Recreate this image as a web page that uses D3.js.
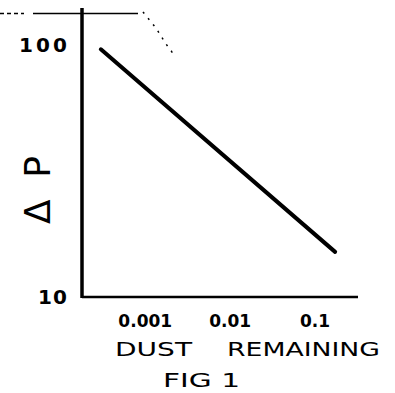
<!DOCTYPE html>
<html>
<head>
<meta charset="utf-8">
<script src="https://cdn.jsdelivr.net/npm/d3@7"></script>
<style>
  html, body { margin: 0; padding: 0; background: #fff; }
  svg { display: block; }
  text { font-family: "DejaVu Sans", sans-serif; fill: #000; }
</style>
</head>
<body>
<svg id="chart" width="395" height="393"></svg>
<script>
// Dust remaining (fraction) vs pressure drop, both on log scales
const dustRemaining = [0.0003, 0.172];
const pressureDrop = [96, 15.1];

const xTickValues = [0.001, 0.01, 0.1];
const xTickLabels = ["0.001", "0.01", "0.1"];
const yTickValues = [10, 100];
const yTickLabels = ["10", "100"];

// level of the ruled line across the top of the sheet
const ruleLevel = 133;

const svg = d3.select("#chart");

const x = d3.scaleLog().domain([1.8e-4, 0.32]).range([82, 358]);
const y = d3.scaleLog().domain([10, 140]).range([297, 8]);

// ruled line at the top (dashed lead-in, then solid)
svg.append("line")
  .attr("x1", 0).attr("x2", 24)
  .attr("y1", y(ruleLevel)).attr("y2", y(ruleLevel))
  .attr("stroke", "#000").attr("stroke-width", 1.5)
  .attr("stroke-dasharray", "4,3");
svg.append("line")
  .attr("x1", 33).attr("x2", 138)
  .attr("y1", y(ruleLevel)).attr("y2", y(ruleLevel))
  .attr("stroke", "#000").attr("stroke-width", 1.5);
// broken trail off the rule
svg.append("path")
  .attr("d", d3.line()([[143, 12], [156, 28], [166, 44], [172, 52], [178, 50]]))
  .attr("fill", "none").attr("stroke", "#000").attr("stroke-width", 1.5)
  .attr("stroke-dasharray", "2,6");

// axes
svg.append("line")
  .attr("x1", x.range()[0]).attr("x2", x.range()[0])
  .attr("y1", y.range()[1]).attr("y2", y.range()[0] + 1)
  .attr("stroke", "#000").attr("stroke-width", 3.5);
svg.append("line")
  .attr("x1", x.range()[0]).attr("x2", x.range()[1])
  .attr("y1", y.range()[0]).attr("y2", y.range()[0])
  .attr("stroke", "#000").attr("stroke-width", 2.5);

// y tick labels
svg.selectAll("text.ytick")
  .data(yTickValues)
  .join("text")
  .attr("class", "ytick")
  .attr("x", 67)
  .attr("y", d => y(d))
  .attr("dy", "0.35em")
  .attr("text-anchor", "end")
  .attr("font-size", 20)
  .attr("font-weight", "bold")
  .attr("textLength", (d, i) => yTickLabels[i].length === 3 ? 48 : 29)
  .attr("lengthAdjust", "spacing")
  .text((d, i) => yTickLabels[i]);

// x tick labels
svg.selectAll("text.xtick")
  .data(xTickValues)
  .join("text")
  .attr("class", "xtick")
  .attr("x", d => x(d))
  .attr("y", 321)
  .attr("dy", "0.35em")
  .attr("text-anchor", "middle")
  .attr("font-size", 17)
  .attr("font-weight", "bold")
  .text((d, i) => xTickLabels[i]);

// axis titles
svg.append("text")
  .attr("x", 115).attr("y", 349).attr("dy", "0.35em")
  .attr("font-size", 20)
  .attr("textLength", 77).attr("lengthAdjust", "spacingAndGlyphs")
  .text("DUST");
svg.append("text")
  .attr("x", 227).attr("y", 349).attr("dy", "0.35em")
  .attr("font-size", 20)
  .attr("textLength", 153).attr("lengthAdjust", "spacingAndGlyphs")
  .text("REMAINING");

svg.append("text")
  .attr("transform", "translate(37,190) rotate(-90)")
  .attr("dy", "0.35em")
  .attr("text-anchor", "middle")
  .attr("font-size", 36)
  .attr("textLength", 68).attr("lengthAdjust", "spacing")
  .text("ΔP");

svg.append("text")
  .attr("x", 163).attr("y", 380).attr("dy", "0.35em")
  .attr("font-size", 19)
  .attr("textLength", 77).attr("lengthAdjust", "spacingAndGlyphs")
  .text("FIG 1");

// data line
svg.append("path")
  .datum(dustRemaining.map((d, i) => [d, pressureDrop[i]]))
  .attr("d", d3.line().x(d => x(d[0])).y(d => y(d[1])))
  .attr("fill", "none")
  .attr("stroke", "#000")
  .attr("stroke-width", 4)
  .attr("stroke-linecap", "round");
</script>
</body>
</html>
